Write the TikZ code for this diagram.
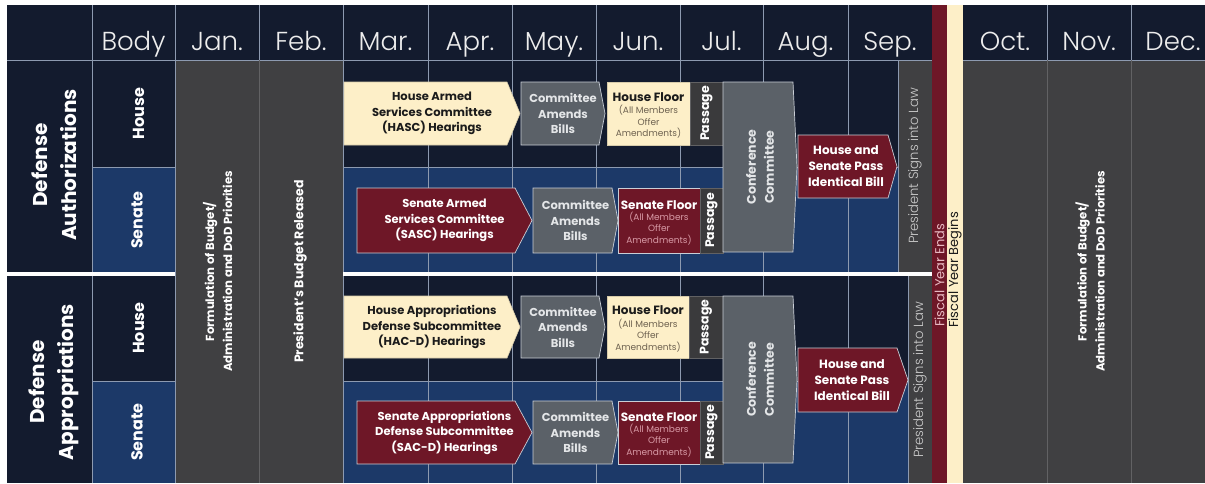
\documentclass[tikz,border=0pt]{standalone}
\usepackage{fontspec}
\setmainfont{Poppins}
\newfontfamily\lightfont{Poppins Light}
\definecolor{navy}{HTML}{131B2E}
\definecolor{sblue}{HTML}{1C3968}
\definecolor{colgray}{HTML}{404042}
\definecolor{gridc}{HTML}{8D9AB0}
\definecolor{colline}{HTML}{626264}
\definecolor{cream}{HTML}{FDEFC8}
\definecolor{maroonc}{HTML}{6E1727}
\definecolor{boxgray}{HTML}{5B6168}
\definecolor{passgray}{HTML}{3A3A3C}
\definecolor{edge}{HTML}{C9CED6}
\definecolor{hdrtext}{HTML}{EDEDED}
\definecolor{darktext}{HTML}{1B1B1B}
\definecolor{creamsmall}{HTML}{6E6250}
\definecolor{pinksmall}{HTML}{D89AA6}
\definecolor{lighttext}{HTML}{E4E6E8}
\definecolor{graytext}{HTML}{CACACA}
\definecolor{fyend}{HTML}{E8B9C2}
\newcommand{\chev}[6]{\draw[#6] (#1,#2) -- ({#3-#5},#2) -- (#3,{(#2+#4)/2}) -- ({#3-#5},#4) -- (#1,#4) -- cycle;}
\begin{document}
\begin{tikzpicture}[x=1pt,y=-1pt,
  every node/.style={inner sep=0pt},
  grid/.style={draw=gridc,line width=1pt},
  colsep/.style={draw=colline,line width=1pt},
  creamb/.style={fill=cream,draw=cream!85!black,line width=0.6pt},
  grayb/.style={fill=boxgray,draw=edge,line width=0.7pt},
  maroonb/.style={fill=maroonc,draw=edge,line width=0.7pt},
  passb/.style={fill=passgray,draw=passgray!80!white,line width=0.6pt},
  hdr/.style={text=hdrtext,font=\lightfont\fontsize{26}{26}\selectfont,anchor=base},
  sect/.style={text=white,font=\bfseries\fontsize{20}{29}\selectfont,rotate=90,align=center},
  bodyl/.style={text=white,font=\bfseries\fontsize{16}{16}\selectfont,rotate=90},
  btxt/.style={font=\bfseries\fontsize{11.5}{15.5}\selectfont,align=center},
  ftitle/.style={font=\bfseries\fontsize{12}{12}\selectfont},
  fsmall/.style={font=\fontsize{9}{11.5}\selectfont,align=center},
  passt/.style={text=white,font=\bfseries\fontsize{12.5}{12.5}\selectfont,rotate=90},
  conft/.style={text=lighttext,font=\bfseries\fontsize{12.5}{18}\selectfont,rotate=90,align=center},
  prest/.style={text=graytext,font=\lightfont\fontsize{13.2}{13.2}\selectfont,rotate=90},
  colt/.style={text=white,font=\bfseries\fontsize{11.7}{18}\selectfont,rotate=90,align=center},
  fyt/.style={font=\fontsize{13}{13}\selectfont,rotate=90,anchor=west}
]
\useasboundingbox (0,0) rectangle (1205,483);
\fill[white] (0,0) rectangle (1205,483);
% backgrounds
\fill[navy] (7,5) rectangle (932,60);
\fill[navy] (963,5) rectangle (1205,60);
\fill[navy] (7,60) rectangle (92,483);
\fill[navy] (92,60) rectangle (175,167);
\fill[sblue] (92,167) rectangle (175,272);
\fill[navy] (92,276) rectangle (175,381);
\fill[sblue] (92,381) rectangle (175,483);
\fill[navy] (343,60) rectangle (932,167);
\fill[sblue] (343,167) rectangle (932,272);
\fill[navy] (343,276) rectangle (932,381);
\fill[sblue] (343,381) rectangle (932,483);
\fill[colgray] (175,60) rectangle (343,483);
\fill[colgray] (963,60) rectangle (1205,483);
\fill[colgray] (898,60) rectangle (932,272);
\fill[colgray] (908,276) rectangle (932,483);
\fill[maroonc] (932,5) rectangle (947,483);
\fill[cream] (947,5) rectangle (963,483);
% grid lines
\foreach \x in {92,175,259,343,428,512,596,680,763,848,1047,1131} \draw[grid] (\x,5) -- (\x,60);
\draw[grid] (7,60) -- (932,60);
\draw[grid] (963,60) -- (1205,60);
\foreach \x in {92,175,343,428,512,596,680,763,848} \draw[grid] (\x,60) -- (\x,483);
\draw[grid] (898,60) -- (898,272);
\draw[grid] (908,276) -- (908,483);
\draw[grid] (92,167) -- (175,167);
\draw[grid] (92,381) -- (175,381);
\draw[grid] (343,167) -- (898,167);
\draw[grid] (343,381) -- (908,381);
\foreach \x in {259,1047,1131} \draw[colsep] (\x,60) -- (\x,483);
\fill[white] (7,272) rectangle (175,276);
\fill[white] (343,272) rectangle (932,276);
% header texts
\node[hdr] (hbody) at (133.5,50) {Body};
\node[hdr] (hjan) at (217,50) {Jan.};
\node[hdr] (hfeb) at (301,50) {Feb.};
\node[hdr] (hmar) at (385.5,50) {Mar.};
\node[hdr] (hapr) at (470,50) {Apr.};
\node[hdr] (hmay) at (554,50) {May.};
\node[hdr] (hjun) at (638,50) {Jun.};
\node[hdr] (hjul) at (721.5,50) {Jul.};
\node[hdr] (haug) at (805.5,50) {Aug.};
\node[hdr] (hsep) at (890,50) {Sep.};
\node[hdr] (hoct) at (1005,50) {Oct.};
\node[hdr] (hnov) at (1089,50) {Nov.};
\node[hdr] (hdec) at (1173,50) {Dec.};
% section labels
\node[sect] (sauth) at (54,165) {Defense\\Authorizations};
\node[sect] (sapp) at (54,382) {Defense\\Appropriations};
\node[bodyl] (bh1) at (138.5,113.5) {House};
\node[bodyl] (bs1) at (137,220) {Senate};
\node[bodyl] (bh2) at (138.5,328) {House};
\node[bodyl] (bs2) at (137,432) {Senate};
% gray columns text
\node[colt] (form1) at (217.5,271.5) {Formulation of Budget/\\Administration and DoD Priorities};
\node[colt,font=\bfseries\fontsize{12.5}{18}\selectfont] (pbr) at (300,271.5) {President's Budget Released};
\node[colt] (form2) at (1090,271.5) {Formulation of Budget/\\Administration and DoD Priorities};
\node[prest] (psl1) at (915,166) {President Signs into Law};
\node[prest] (psl2) at (920,380) {President Signs into Law};
\node[fyt,text=fyend] (fye) at (939.5,327) {Fiscal Year Ends};
\node[fyt,text=darktext] (fyb) at (955,328) {Fiscal Year Begins};
% ---- Authorizations, House
\chev{344}{82}{520}{145}{13}{creamb}
\chev{521}{82}{605}{145}{6}{grayb}
\draw[creamb] (607,82) rectangle (690,145);
\draw[passb] (690,82) rectangle (723,145);
% ---- Authorizations, Senate
\chev{357}{188}{532}{253}{17}{maroonb}
\chev{533}{188}{618}{253}{6}{grayb}
\draw[maroonb] (618,188) rectangle (700,253);
\draw[passb] (700,188) rectangle (723,253);
\chev{723}{82}{797}{252}{4}{grayb}
\chev{798}{135}{897}{198}{9}{maroonb}
% ---- Appropriations, House
\chev{344}{296}{520}{358}{13}{creamb}
\chev{521}{296}{605}{358}{6}{grayb}
\draw[creamb] (607,296) rectangle (689,358);
\draw[passb] (689,296) rectangle (723,358);
% ---- Appropriations, Senate
\chev{357}{401}{532}{464}{17}{maroonb}
\chev{533}{401}{618}{464}{6}{grayb}
\draw[maroonb] (618,401) rectangle (700,464);
\draw[passb] (700,401) rectangle (723,464);
\chev{723}{296}{797}{463}{4}{grayb}
\chev{798}{348}{908}{412}{11}{maroonb}
% ---- texts, authorizations
\node[btxt,text=darktext] (hasc) at (432,113.5) {House Armed\\Services Committee\\(HASC) Hearings};
\node[btxt,text=lighttext] (cab1) at (563,113.5) {Committee\\Amends\\Bills};
\node[ftitle,text=darktext] (hf1) at (648.5,97) {House Floor};
\node[fsmall,text=creamsmall] (hf1s) at (648.5,122) {(All Members\\Offer\\Amendments)};
\node[passt] (pa1) at (706.5,113.5) {Passage};
\node[btxt,text=white] (sasc) at (444.5,220.5) {Senate Armed\\Services Committee\\(SASC) Hearings};
\node[btxt,text=lighttext] (cab2) at (575.5,220.5) {Committee\\Amends\\Bills};
\node[ftitle,text=white] (sf1) at (659,205) {Senate Floor};
\node[fsmall,text=pinksmall] (sf1s) at (659,228.5) {(All Members\\Offer\\Amendments)};
\node[passt] (pa2) at (711.5,220.5) {Passage};
\node[conft] (conf1) at (760,167) {Conference\\Committee};
\node[btxt,text=white,font=\bfseries\fontsize{12}{16}\selectfont] (ib1) at (846,166.5) {House and\\Senate Pass\\Identical Bill};
% ---- texts, appropriations
\node[btxt,text=darktext] (hacd) at (432,327) {House Appropriations\\Defense Subcommittee\\(HAC-D) Hearings};
\node[btxt,text=lighttext] (cab3) at (563,327) {Committee\\Amends\\Bills};
\node[ftitle,text=darktext] (hf2) at (648,310.5) {House Floor};
\node[fsmall,text=creamsmall] (hf2s) at (648,335.5) {(All Members\\Offer\\Amendments)};
\node[passt] (pa3) at (706,327) {Passage};
\node[btxt,text=white] (sacd) at (444.5,432.5) {Senate Appropriations\\Defense Subcommittee\\(SAC-D) Hearings};
\node[btxt,text=lighttext] (cab4) at (575.5,432.5) {Committee\\Amends\\Bills};
\node[ftitle,text=white] (sf2) at (659,417) {Senate Floor};
\node[fsmall,text=pinksmall] (sf2s) at (659,440.5) {(All Members\\Offer\\Amendments)};
\node[passt] (pa4) at (711.5,432.5) {Passage};
\node[conft] (conf2) at (760,379.5) {Conference\\Committee};
\node[btxt,text=white,font=\bfseries\fontsize{12}{16}\selectfont] (ib2) at (852,380) {House and\\Senate Pass\\Identical Bill};
\end{tikzpicture}
\end{document}
